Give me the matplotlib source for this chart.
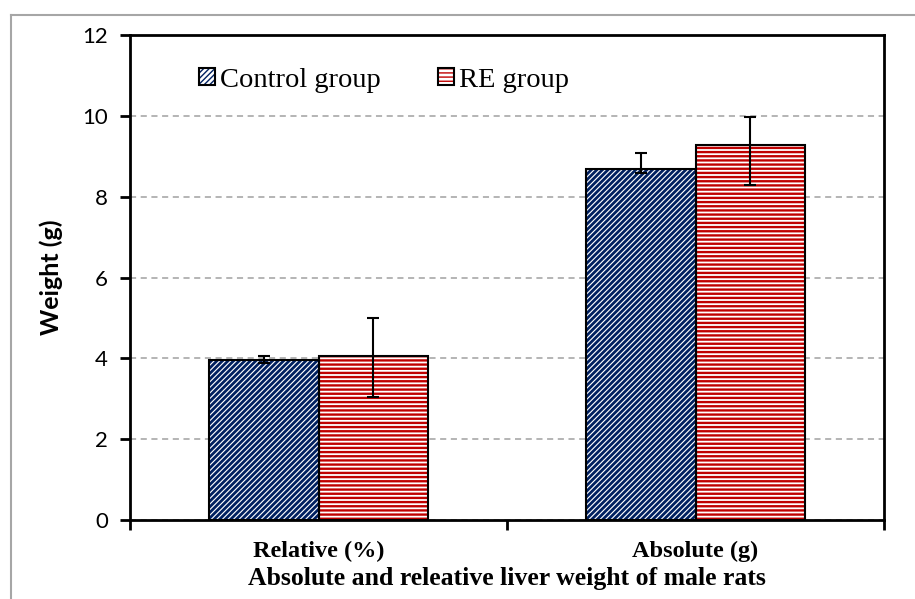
import matplotlib
matplotlib.use('Agg')
import matplotlib.pyplot as plt
from matplotlib.lines import Line2D
from matplotlib.legend_handler import HandlerTuple
import numpy as np

categories = ['Relative (%)', 'Absolute (g)']
control = [3.97, 8.69]
control_err_low = [0.08, 0.10]
control_err_high = [0.08, 0.38]
re_group = [4.05, 9.28]
re_err_low = [1.00, 1.00]
re_err_high = [0.95, 0.69]

navy = '#002060'
red = '#C00000'

fig = plt.figure(figsize=(9.15, 5.99), dpi=100)
ax = fig.add_axes([130 / 915, 1 - 520 / 599, 754 / 915, 485 / 599])

x = np.arange(len(categories))
w = 0.29

# hatched fill first, black outline on top
with plt.rc_context({'hatch.linewidth': 2.0}):
    ax.bar(x - w / 2, control, w, color='white', edgecolor=navy, hatch='//////', linewidth=0, zorder=2)
    navy_fill = plt.Rectangle((0, 0), 1, 1, facecolor='white', edgecolor=navy, hatch='//////', linewidth=0)
with plt.rc_context({'hatch.linewidth': 1.7}):
    ax.bar(x + w / 2, re_group, w, color='white', edgecolor=red, hatch='----', linewidth=0, zorder=2)
    red_fill = plt.Rectangle((0, 0), 1, 1, facecolor='white', edgecolor=red, hatch='----', linewidth=0)
ax.bar(x - w / 2, control, w, color='none', edgecolor='black', linewidth=1.5, zorder=3)
ax.bar(x + w / 2, re_group, w, color='none', edgecolor='black', linewidth=1.5, zorder=3)

ax.errorbar(x - w / 2, control, yerr=[control_err_low, control_err_high], fmt='none',
            ecolor='black', elinewidth=1.5, capsize=4.5, capthick=1.5, zorder=4)
ax.errorbar(x + w / 2, re_group, yerr=[re_err_low, re_err_high], fmt='none',
            ecolor='black', elinewidth=1.5, capsize=4.5, capthick=1.5, zorder=4)

ax.set_xlim(-0.5, 1.5)
ax.set_ylim(0, 12)
ax.set_yticks(range(0, 13, 2))
ax.grid(axis='y', color='#a0a0a0', linestyle=(0, (4, 3)), linewidth=1.1, zorder=0)

# category boundaries as major ticks, labels on minor ticks
ax.set_xticks([-0.5, 0.5, 1.5])
ax.set_xticklabels([])
ax.set_xticks(x, minor=True)
ax.set_xticklabels(categories, minor=True, fontsize=17.5, fontweight='bold', family='Liberation Serif')
ax.tick_params(axis='x', which='minor', length=0, pad=15)
ax.tick_params(axis='x', which='major', length=7, width=2, direction='out')
ax.tick_params(axis='y', length=7, width=2, direction='out', labelsize=16, pad=9)
for lab in ax.get_yticklabels():
    lab.set_family('Lato')

for s in ax.spines.values():
    s.set_linewidth(2)

ax.set_ylabel('Weight (g)', fontsize=18, fontweight='bold', family='Lato', labelpad=14)
ax.set_xlabel('Absolute and releative liver weight of male rats', fontsize=18.5,
              fontweight='bold', family='Liberation Serif')
ax.xaxis.set_label_coords(0.5, -0.096)

handles = []
for fill in (navy_fill, red_fill):
    edge = plt.Rectangle((0, 0), 1, 1, facecolor='none', edgecolor='black', linewidth=1.5)
    handles.append((fill, edge))
ax.legend(handles, ['Control group', 'RE group'], loc='center left', bbox_to_anchor=(0.0915, 0.907),
          ncol=2, frameon=False, handlelength=0.55, handleheight=0.55, handletextpad=0.2,
          columnspacing=2.0, borderpad=0, borderaxespad=0,
          handler_map={tuple: HandlerTuple(ndivide=1, pad=0)},
          prop={'family': 'Liberation Serif', 'size': 20.5})

# gray outer border of the chart area
fig.add_artist(Line2D([11 / 915, 11 / 915], [0, 1 - 15 / 599], color='#a6a6a6', linewidth=1.5,
                      transform=fig.transFigure))
fig.add_artist(Line2D([11 / 915, 1], [1 - 15 / 599, 1 - 15 / 599], color='#a6a6a6', linewidth=1.5,
                      transform=fig.transFigure))

plt.savefig('out.png', dpi=100)
